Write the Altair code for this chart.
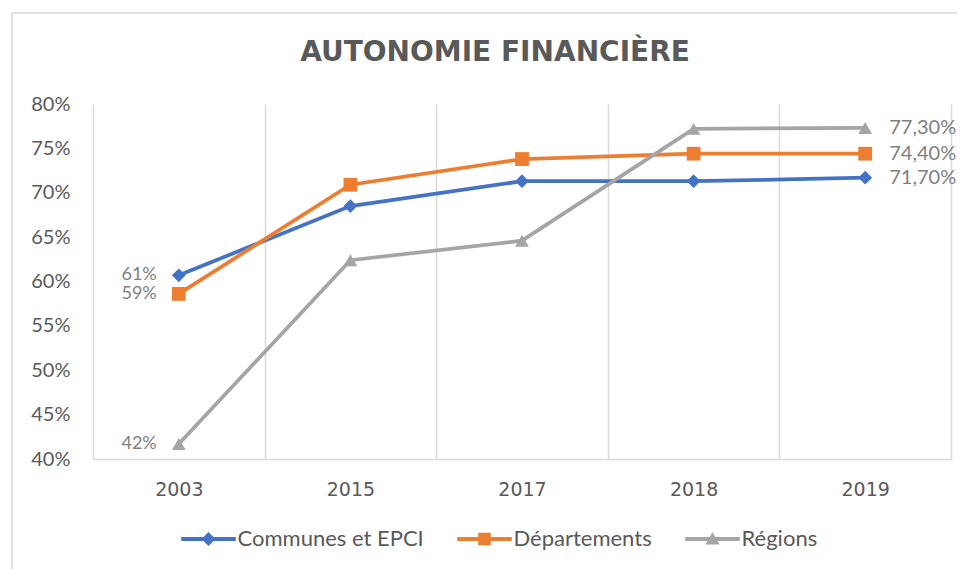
import altair as alt
import pandas as pd

years = ["2003", "2015", "2017", "2018", "2019"]
series = ["Communes et EPCI", "Départements", "Régions"]
communes = [0.607, 0.685, 0.713, 0.713, 0.717]
departements = [0.586, 0.709, 0.738, 0.744, 0.744]
regions = [0.417, 0.624, 0.646, 0.772, 0.773]
first_labels = ["61%", "59%", "42%"]
last_labels = ["71,70%", "74,40%", "77,30%"]
y_ticks = [0.40, 0.45, 0.50, 0.55, 0.60, 0.65, 0.70, 0.75, 0.80]

colors = ["#4472C4", "#ED7D31", "#A5A5A5"]
shapes = ["diamond", "square", "triangle-up"]
legend_shapes = [
    "M-3.9,-0.27H3.9V0.27H-3.9Z M0,-1L1,0L0,1L-1,0Z",
    "M-3.9,-0.27H3.9V0.27H-3.9Z M-0.9,-0.9H0.9V0.9H-0.9Z",
    "M-3.9,-0.27H3.9V0.27H-3.9Z M0,-1L1,0.8H-1Z",
]

rows = []
for name, vals, fl, ll in zip(series, [communes, departements, regions], first_labels, last_labels):
    for i, (yr, v) in enumerate(zip(years, vals)):
        side = "left" if i == 0 else ("right" if i == len(years) - 1 else "")
        label = fl if i == 0 else (ll if i == len(years) - 1 else "")
        rows.append({"year": yr, "series": name, "value": v, "side": side, "label": label})
df = pd.DataFrame(rows)

GRAY = "#D9D9D9"
TXT = "#595959"
FONT = "Lato"

x_enc = alt.X(
    "year:N",
    sort=years,
    scale=alt.Scale(type="band", paddingInner=0, paddingOuter=0),
    axis=alt.Axis(
        title=None, tickBand="extent", grid=True, gridColor=GRAY, gridWidth=1.5,
        ticks=False, domain=True, domainColor=GRAY, domainWidth=1.5, labelAngle=0,
        labelFont="DejaVu Sans", labelFontSize=19, labelColor=TXT, labelPadding=21,
    ),
)
y_enc = alt.Y(
    "value:Q",
    scale=alt.Scale(domain=[0.4, 0.8], nice=False, zero=False),
    axis=alt.Axis(
        title=None, format=".0%", values=y_ticks, grid=False, ticks=False, domain=False,
        labelFont=FONT, labelFontSize=20, labelColor=TXT, labelPadding=23,
    ),
)

def color_enc(legend=None):
    return alt.Color("series:N", sort=series, scale=alt.Scale(domain=series, range=colors), legend=legend)

base = alt.Chart(df)

border = alt.Chart(pd.DataFrame({"a": [0]})).mark_rect(
    fill=None, stroke=GRAY, strokeWidth=1.5
).encode(x=alt.value(-81), x2=alt.value(900), y=alt.value(-91), y2=alt.value(500))

lines = base.mark_line(strokeWidth=3.75).encode(x=x_enc, y=y_enc, color=color_enc())

points = base.mark_point(filled=True, size=190, opacity=1, strokeWidth=0).encode(
    x=x_enc, y=y_enc, color=color_enc(),
    shape=alt.Shape("series:N", sort=series, scale=alt.Scale(domain=series, range=shapes), legend=None),
)

leg = alt.Legend(
    title=None, orient="none", legendX=104.5, legendY=424, direction="horizontal",
    symbolSize=196, symbolStrokeWidth=0, symbolOpacity=1, labelFont=FONT, labelFontSize=22,
    labelColor=TXT, labelOffset=18, columnPadding=32, padding=0, labelLimit=400,
)
legend_layer = base.mark_point(filled=True, opacity=0, size=1).encode(
    x=x_enc, y=y_enc, color=color_enc(leg),
    shape=alt.Shape("series:N", sort=series, scale=alt.Scale(domain=series, range=legend_shapes), legend=leg),
)

left_text = base.transform_filter(alt.datum.side == "left").mark_text(
    align="right", baseline="middle", dx=-22, font=FONT, fontSize=18, color="#7F7F7F"
).encode(x=x_enc, y=y_enc, text="label:N")

right_text = base.transform_filter(alt.datum.side == "right").mark_text(
    align="left", baseline="middle", dx=24, font=FONT, fontSize=20, color="#7F7F7F"
).encode(x=x_enc, y=y_enc, text="label:N")

chart = alt.layer(border, lines, points, legend_layer, left_text, right_text).resolve_scale(
    color="independent", shape="independent"
).properties(
    width=858, height=355,
    padding={"left": 85, "top": 96, "right": 6, "bottom": 110},
    autosize=alt.AutoSizeParams(type="none"),
    title=alt.TitleParams(
        "AUTONOMIE FINANCIÈRE", font="DejaVu Sans", fontSize=28, fontWeight="bold",
        color=TXT, anchor="middle", frame="group", dx=-27, offset=-83, baseline="bottom",
    ),
).configure_view(stroke=None)

chart.save("out.html", embed_options={"renderer": "svg", "actions": False})
